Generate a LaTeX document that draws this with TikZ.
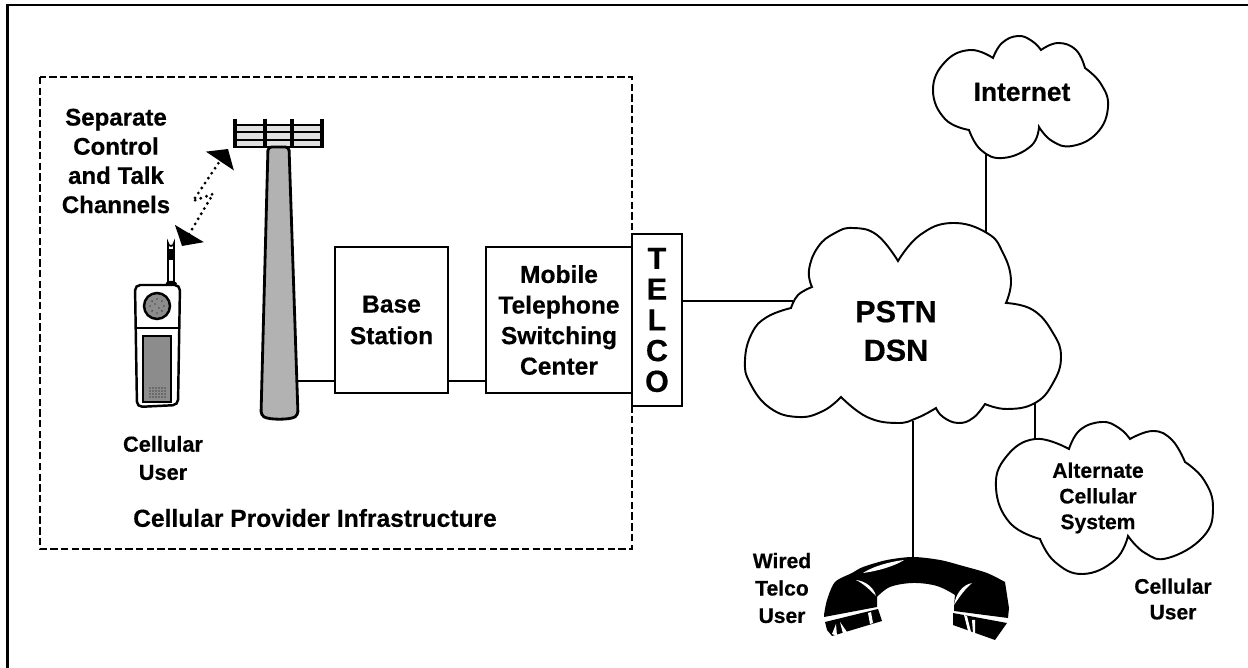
\documentclass[tikz,border=0pt]{standalone}
\usepackage{fontspec}
\setmainfont{Liberation Sans}[BoldFeatures={FakeBold=.4}]
\usepackage{tikz}
\usetikzlibrary{positioning,arrows.meta}

\tikzset{
lbl/.style={align=center,inner sep=0pt,font=\bfseries\fontsize{13.7}{16.6}\selectfont},
lblsmall/.style={align=center,inner sep=0pt,font=\bfseries\fontsize{12}{14.6}\selectfont},
lblbig/.style={align=center,inner sep=0pt,font=\bfseries\fontsize{17.4}{22}\selectfont},
box/.style={draw,rectangle,line width=1.2pt,outer sep=0pt,fill=white,align=center,inner sep=0pt,font=\bfseries\fontsize{14}{17.4}\selectfont},
cloudline/.style={draw,fill=white,line width=1.1pt,line join=miter},
lobe/.style={smooth,tension=.75},
link/.style={line width=1.2pt},
radiolink/.style={line width=1.8pt,line cap=round,dash pattern=on 0pt off 3.4pt,{Triangle[length=.29cm,width=.66cm]}-{Triangle[length=.29cm,width=.66cm]}}
}

\begin{document}
\begin{tikzpicture}[x=.02cm,y=-.02cm]
\useasboundingbox (0,0) rectangle (1248,668);
\fill[white] (0,0) rectangle (1248,668);
\draw[line width=1.2pt] (7.5,668) -- (7.5,5) -- (1248,5);

% provider area
\draw[line width=1.3pt,dash pattern=on 4.2pt off 1.9pt] (40,77) rectangle (632,549);

% connector ends on the shapes
\coordinate (towerfoot) at (297,381);
\coordinate (inetfoot) at (986,154);
\coordinate (pstntop) at (986,235);
\coordinate (pstnleft) at (793,301);
\coordinate (pstnright) at (1035,403);
\coordinate (altertop) at (1035,440);
\coordinate (pstnfoot) at (913,421);
\coordinate (handtop) at (913,558);

\draw[link] (inetfoot) -- (pstntop);
\draw[link] (pstnright) -- (altertop);
\draw[link] (pstnfoot) -- (handtop);

% clouds
\path[cloudline] plot[lobe] coordinates {(898,261) (920,235) (952,223) (987,233) (1003,253) (1011,280) (1006,303)}
 -- plot[lobe] coordinates {(1006,303) (1033,310) (1053,333) (1061,357) (1053,383) (1035,403) (1007,409) (985,404)}
 -- plot[lobe] coordinates {(985,404) (973,418) (958,423) (943,417) (936,408)}
 -- plot[lobe] coordinates {(936,408) (917,418) (897,423) (867,417) (841,397)}
 -- plot[lobe] coordinates {(841,397) (823,411) (798,417) (770,408) (750,383) (745,360) (752,333) (767,317) (791,308)}
 -- plot[lobe] coordinates {(791,308) (798,295) (812,287)}
 -- plot[lobe] coordinates {(812,287) (809,270) (818,247) (835,233) (853,228) (877,235) (898,261)} -- cycle;
\path[cloudline] plot[lobe] coordinates {(993,58) (1002,43) (1018,36) (1032,41) (1041,50)}
 -- plot[lobe] coordinates {(1041,50) (1058,43) (1076,50) (1085,68)}
 -- plot[lobe] coordinates {(1085,68) (1101,84) (1108,107) (1097,133) (1072,146) (1052,141) (1039,127)}
 -- plot[lobe] coordinates {(1039,127) (1031,146) (1003,158) (981,150) (969,130)}
 -- plot[lobe] coordinates {(969,130) (945,119) (933,90) (945,62) (970,50) (993,58)} -- cycle;
\path[cloudline] plot[lobe] coordinates {(1069,449) (1080,430) (1102,422) (1119,428) (1130,439)}
 -- plot[lobe] coordinates {(1130,439) (1153,431) (1172,440) (1185,462)}
 -- plot[lobe] coordinates {(1185,462) (1204,480) (1213,508) (1203,537) (1168,558) (1145,553) (1128,536)}
 -- plot[lobe] coordinates {(1128,536) (1115,560) (1083,574) (1055,562) (1040,539)}
 -- plot[lobe] coordinates {(1040,539) (1010,523) (996,488) (1006,457) (1035,439) (1069,449)} -- cycle;

\node (inet) [lbl,font=\bfseries\fontsize{15}{18}\selectfont] at (1022,92) {Internet};
\node (pstn) [lblbig] at (896,331) {PSTN\\DSN};
\node (alter) [lblsmall] at (1098,498) {Alternate\\Cellular\\System};
\node (celluser2) [lblsmall] at (1173,599) {Cellular\\User};
\node (wired) [lblsmall,font=\bfseries\fontsize{12}{15.6}\selectfont] at (782,588) {Wired\\Telco\\User};

% boxes
\node (base) [box,minimum width=2.26cm,minimum height=2.92cm,font=\bfseries\fontsize{14}{18}\selectfont] at (391.5,320) {Base\\Station};
\node (mtsc) [box,minimum width=2.92cm,minimum height=2.92cm,right=.76cm of base] {Mobile\\Telephone\\Switching\\Center};
\node (telco) [box,minimum width=1cm,minimum height=3.44cm,right=0cm of mtsc,font=\bfseries\fontsize{17.4}{17.5}\selectfont] {T\\E\\L\\C\\O};

\draw[link] (towerfoot) -- (base.west |- towerfoot);
\draw[link] (base.east |- towerfoot) -- (mtsc.west |- towerfoot);
\draw[link] (telco.east |- pstnleft) -- (pstnleft);

% tower
\draw[line width=1.4pt,fill=black!12] (234,125) rectangle (323,147);
\draw[line width=1pt] (234,132) -- (323,132) (234,140) -- (323,140);
\foreach \xpos in {235,265,292,322} {
  \draw[line width=1.8pt] (\xpos,119) -- (\xpos,147);
}
\draw[line width=1.6pt,fill=black!30,rounded corners=2pt] (268,147) -- (289,147) -- (298,415) .. controls (290,420) and (269,420) .. (261,415) -- cycle;

% radio link
\coordinate (sigbot) at (182,246);
\coordinate (sigtop) at (228,149);
\coordinate (sigone) at (213,194);
\coordinate (sigtwo) at (193,201);
\draw[radiolink] (sigbot) -- (sigone) -- (sigtwo) -- (sigtop);

% handheld
\draw[line width=1pt,fill=white] (168,285) -- (168,243) arc[start angle=180,end angle=0,radius=3] -- (174,285) -- cycle;
\fill (168,249) rectangle (174,260);
\draw[line width=1.4pt,fill=white,rounded corners=3pt] (135,285) -- (180,285) -- (178,405) -- (137,407) -- cycle;
\fill[rounded corners=1pt] (165,285) -- (167,281) -- (175,281) -- (178,285) -- cycle;
\draw[line width=1.2pt] (136,328) -- (179,328);
\draw[line width=1.4pt,fill=black!45] (157,306) circle (13);
\foreach \ang in {0,45,...,315} {
  \fill ([shift={(157,306)}]\ang:7) circle (.7);
}
\fill (155,304) circle (.7) (159,308) circle (.7);
\draw[line width=1.4pt,fill=black!45] (143,336) rectangle (171,402);
\foreach \xpos in {150,153,156,159,162,165} {
  \foreach \ypos in {388,391,394,397} {
    \fill (\xpos,\ypos) circle (.65);
  }
}
\node (separate) [lbl] at (116,161) {Separate\\Control\\and Talk\\Channels};
\node (celluser) [lbl,font=\bfseries\fontsize{12.4}{16}\selectfont] at (163,458) {Cellular\\User};
\node (provider) [lbl,font=\bfseries\fontsize{14}{16.6}\selectfont] at (315,518) {Cellular Provider Infrastructure};

% handset
\fill plot[smooth,tension=.5] coordinates {(824,615) (827,600) (835,582) (852,573) (863,567) (887,560) (913,557) (940,560) (963,566) (987,573) (1005,582)} -- (1009,608) -- (1008,618) -- (954,611) -- (954,605) -- plot[smooth,tension=.6] coordinates {(955,595) (937,586) (913,583) (890,587) (877,597)} -- (877,607) -- (824,617) -- cycle;
\fill (825,622) -- (878,609) -- (882,621) -- (832,636) -- (827,630) -- cycle;
\fill (953,613) -- (1007,623) -- (995,640) -- (953,625) -- cycle;
\fill[white] (863,573) .. controls (875,565) and (895,561) .. (904,560) .. controls (895,566) and (878,571) .. (863,573) -- cycle;
\fill[white] (856,580) .. controls (866,581) and (874,588) .. (876,596) .. controls (870,590) and (864,584) .. (856,580) -- cycle;
\fill[white] (972,583) .. controls (962,585) and (956,594) .. (954,605) .. controls (960,596) and (965,589) .. (972,583) -- cycle;
\fill[white] (836,624) -- (832,634) -- (837,636) -- cycle;
\fill[white] (840,622) -- (843,634) -- (847,632) -- cycle;
\fill[white] (868,613) -- (870,624) -- (873,623) -- (871,612) -- cycle;
\fill[white] (964,615) -- (968,631) -- (971,632) -- (967,616) -- cycle;
\fill[white] (972,620) -- (973,633) -- (975,634) -- (975,620) -- cycle;
\end{tikzpicture}
\end{document}
